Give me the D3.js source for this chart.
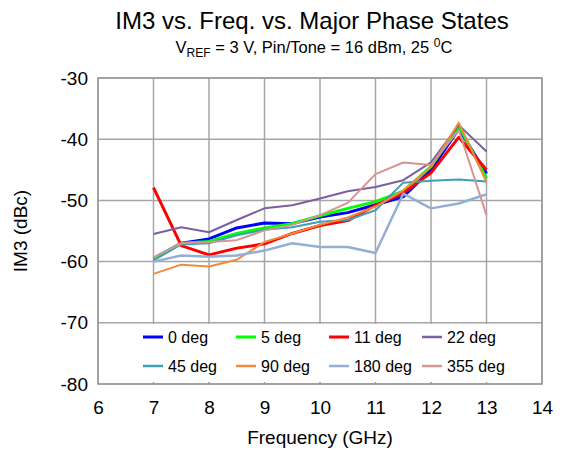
<!DOCTYPE html>
<html><head><meta charset="utf-8">
<script src="https://cdn.jsdelivr.net/npm/d3@7"></script>
<style>body{margin:0;background:#fff;} svg{display:block;font-family:"Liberation Sans",Arial,sans-serif;}</style>
</head><body>
<svg id="c" width="564" height="454"></svg>
<script>
const freqs = [7, 7.5, 8, 8.5, 9, 9.5, 10, 10.5, 11, 11.5, 12, 12.5, 13];
const deg0   = [-59.5, -57.0, -56.3, -54.5, -53.7, -53.8, -52.7, -52.0, -50.7, -49.4, -45.0, -38.3, -45.6];
const deg5   = [-59.5, -57.0, -56.7, -55.4, -54.5, -53.8, -52.5, -51.3, -50.2, -48.5, -44.5, -37.8, -46.4];
const deg11  = [-47.9, -57.4, -58.9, -57.8, -57.1, -55.4, -54.1, -53.3, -50.8, -48.8, -45.5, -39.7, -45.0];
const deg22  = [-55.5, -54.4, -55.2, -53.2, -51.3, -50.8, -49.7, -48.5, -47.8, -46.7, -43.8, -37.7, -42.0];
const deg45  = [-59.8, -57.2, -57.0, -55.7, -54.8, -54.4, -53.5, -53.2, -51.6, -47.1, -46.8, -46.6, -46.9];
const deg90  = [-62.0, -60.5, -60.8, -59.7, -56.8, -55.4, -54.0, -52.8, -51.0, -48.4, -44.5, -37.3, -47.0];
const deg180 = [-60.0, -59.0, -59.2, -59.0, -58.2, -57.0, -57.6, -57.6, -58.6, -48.9, -51.3, -50.5, -49.0];
const deg355 = [-59.3, -57.0, -56.8, -56.5, -54.9, -54.0, -52.4, -50.4, -45.7, -43.8, -44.2, -38.5, -52.4];
const seriesNames = ["0 deg", "5 deg", "11 deg", "22 deg", "45 deg", "90 deg", "180 deg", "355 deg"];
const seriesValues = [deg0, deg5, deg11, deg22, deg45, deg90, deg180, deg355];
const seriesColors = ["#0000ff", "#00ff00", "#ff0000", "#7b5f9e", "#3f9fb6", "#f08a3c", "#93afd6", "#d49593"];
const seriesWidths = [3, 3, 3, 2, 2, 2, 2.5, 2];
const xTicks = [6, 7, 8, 9, 10, 11, 12, 13, 14];
const yTicks = [-30, -40, -50, -60, -70, -80];

const svg = d3.select("#c");
const L = 98, R = 542, T = 78, B = 384;
const x = d3.scaleLinear().domain([6, 14]).range([L, R]);
const y = d3.scaleLinear().domain([-80, -30]).range([B, T]);
const gridCol = "#a6a6a6";
const FONT = "Liberation Sans, Arial, sans-serif";

// grid
svg.append("g").selectAll("line").data(xTicks).join("line")
  .attr("x1", d => x(d)).attr("x2", d => x(d)).attr("y1", T).attr("y2", B)
  .attr("stroke", gridCol).attr("stroke-width", 1.5);
svg.append("g").selectAll("line").data(yTicks).join("line")
  .attr("x1", L).attr("x2", R).attr("y1", d => y(d)).attr("y2", d => y(d))
  .attr("stroke", gridCol).attr("stroke-width", 1.5);
svg.append("rect").attr("x", L).attr("y", T).attr("width", R - L).attr("height", B - T)
  .attr("fill", "none").attr("stroke", "#999").attr("stroke-width", 1.5);

// axes labels
const xAxis = d3.axisBottom(x).tickValues(xTicks).tickSize(0).tickPadding(17).tickFormat(d => String(d));
const gx = svg.append("g").attr("transform", `translate(0,${B})`).call(xAxis);
gx.select(".domain").remove();
gx.selectAll("text").attr("font-size", 19).attr("fill", "#000").attr("font-family", FONT);
const yAxis = d3.axisLeft(y).tickValues(yTicks).tickSize(0).tickPadding(10).tickFormat(d => String(d));
const gy = svg.append("g").attr("transform", `translate(${L},0)`).call(yAxis);
gy.select(".domain").remove();
gy.selectAll("text").attr("font-size", 19).attr("fill", "#000").attr("font-family", FONT);

// small ticks at bottom
svg.append("g").selectAll("line").data(xTicks.slice(1, -1)).join("line")
  .attr("x1", d => x(d)).attr("x2", d => x(d)).attr("y1", B - 4).attr("y2", B)
  .attr("stroke", "#999").attr("stroke-width", 1);

// lines
const line = d3.line().x((d, i) => x(freqs[i])).y(d => y(d));
const gl = svg.append("g");
seriesValues.forEach((vals, k) => {
  gl.append("path").datum(vals).attr("d", line).attr("fill", "none")
    .attr("stroke", seriesColors[k]).attr("stroke-width", seriesWidths[k])
    .attr("stroke-linejoin", "round");
});

// legend
const leg = svg.append("g");
leg.append("rect").attr("x", 112).attr("y", 324).attr("width", 408).attr("height", 58).attr("fill", "#fff");
const colX = [143, 236, 329, 422];
const rowY = [337, 366];
seriesNames.forEach((n, k) => {
  const cx = colX[k % 4], cy = rowY[Math.floor(k / 4)];
  leg.append("line").attr("x1", cx).attr("x2", cx + 20).attr("y1", cy).attr("y2", cy)
    .attr("stroke", seriesColors[k]).attr("stroke-width", k < 3 ? 3 : 2.5);
  leg.append("text").attr("x", cx + 25).attr("y", cy + 6).attr("font-size", 16).text(n);
});

// titles
svg.append("text").attr("x", 312).attr("y", 29).attr("text-anchor", "middle").attr("font-size", 24)
  .text("IM3 vs. Freq. vs. Major Phase States");
const st = svg.append("text").attr("x", 314).attr("y", 53).attr("text-anchor", "middle").attr("font-size", 16.5);
st.append("tspan").text("V");
st.append("tspan").attr("font-size", 12).attr("dy", 4).text("REF");
st.append("tspan").attr("dy", -4).text(" = 3 V, Pin/Tone = 16 dBm, 25 ");
st.append("tspan").attr("font-size", 12).attr("dy", -6).text("0");
st.append("tspan").attr("dy", 6).text("C");

svg.append("text").attr("x", 320).attr("y", 444).attr("text-anchor", "middle").attr("font-size", 19)
  .text("Frequency (GHz)");
svg.append("text").attr("transform", "translate(27,231) rotate(-90)").attr("text-anchor", "middle")
  .attr("font-size", 19).text("IM3 (dBc)");
</script>
</body></html>
